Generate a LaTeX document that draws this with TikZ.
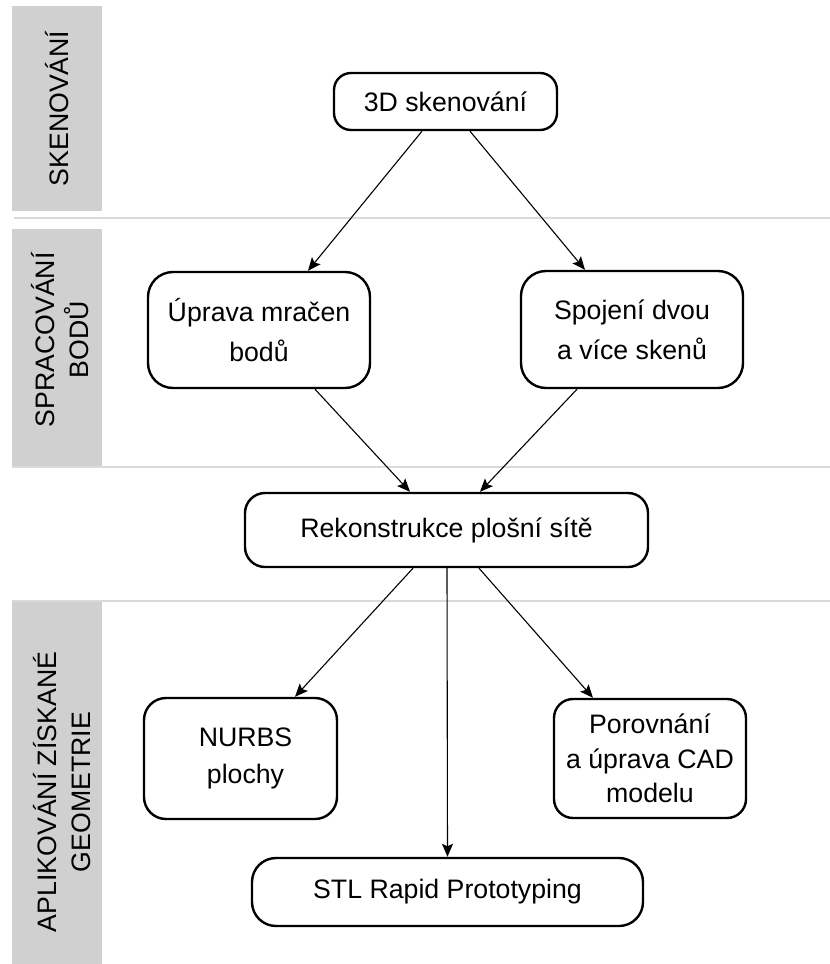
\documentclass[tikz,border=0pt]{standalone}
\usepackage{fontspec}
\setmainfont{Liberation Sans}
\usetikzlibrary{arrows.meta,calc}
\definecolor{bargray}{HTML}{D0D0D0}
\definecolor{sepgray}{HTML}{DADADA}
\begin{document}
\begin{tikzpicture}[x=1pt,y=-1pt,
  box/.style={draw=black, line width=2.4pt, rounded corners=20pt, inner sep=0pt, align=center, fill=white},
  flow/.style={-{Stealth[length=13pt,width=11pt,inset=2.5pt]}, line width=1.1pt},
  lbl/.style={rotate=90, align=center, inner sep=0pt, font=\fontsize{26.7}{34}\selectfont},
  sep/.style={draw=sepgray, line width=2pt},
  font=\fontsize{26.7}{40}\selectfont]
\useasboundingbox (0,0) rectangle (830,964);
% lane bars
\fill[bargray] (12,6) rectangle (102,211);
\fill[bargray] (12,229) rectangle (102,467);
\fill[bargray] (12,601) rectangle (102,964);
% separators
\draw[sep] (14,218) -- (830,218);
\draw[sep] (12,467) -- (830,467);
\draw[sep] (12,601) -- (830,601);
% lane labels
\node[lbl] (l1) at (57.5,108.5) {SKENOVÁNÍ};
\node[lbl] (l2) at (60,340) {SPRACOVÁNÍ\\BODŮ};
\node[lbl] (l3) at (62,792) {APLIKOVÁNÍ ZÍSKANÉ\\GEOMETRIE};
% boxes
\node[box, rounded corners=17pt, minimum width=223pt, minimum height=57pt] (sk) at (445.5,101.5) {3D skenování};
\node[box, rounded corners=25pt, minimum width=222pt, minimum height=116pt] (up) at (259,330) {Úprava mračen\\bodů};
\node[box, rounded corners=25pt, minimum width=222pt, minimum height=117pt] (sp) at (632,329.5) {Spojení dvou\\a více skenů};
\node[box, minimum width=403pt, minimum height=74pt] (rek) at (446.5,530) {Rekonstrukce plošní sítě};
\node[box, rounded corners=22pt, minimum width=193pt, minimum height=121pt, font=\fontsize{26.7}{37.5}\selectfont] (nu) at (240.5,758.5) {\hspace*{10pt}NURBS\\\hspace*{10pt}plochy};
\node[box, rounded corners=19pt, minimum width=192pt, minimum height=119pt, font=\fontsize{26.7}{34.5}\selectfont] (por) at (650,758.5) {Porovnání\\a úprava CAD\\modelu};
\node[box, rounded corners=24pt, minimum width=391pt, minimum height=68pt] (stl) at (447.5,892) {STL Rapid Prototyping};
% connectors
\draw[flow] ($(sk.south)+(-23.5,0)$) -- ($(up.north)+(49,0)$);
\draw[flow] ($(sk.south)+(24.5,0)$) -- ($(sp.north)+(-47,0)$);
\draw[flow] ($(up.south)+(56,0)$) -- ($(rek.north)+(-36.5,0)$);
\draw[flow] ($(sp.south)+(-55,0)$) -- ($(rek.north)+(33.5,0)$);
\draw[flow] ($(rek.south)+(-33.5,0)$) -- ($(nu.north)+(54.5,0)$);
\draw[flow] ($(rek.south)+(0.5,0)$) -- (stl.north);
\draw[flow] ($(rek.south)+(32.5,0)$) -- ($(por.north)+(-57,0)$);
\end{tikzpicture}
\end{document}
